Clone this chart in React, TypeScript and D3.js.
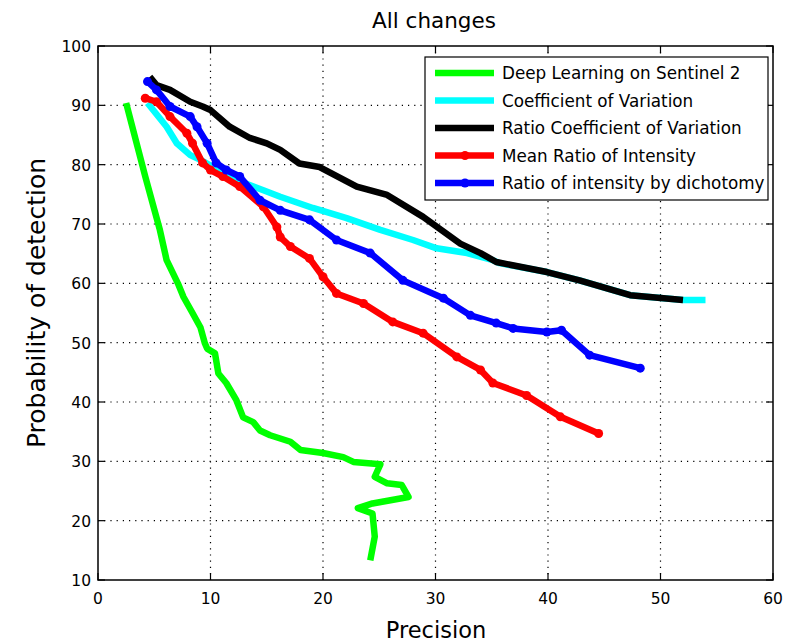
import React from "react";
import * as d3 from "d3";

const xTicks = [0, 10, 20, 30, 40, 50, 60];
const yTicks = [10, 20, 30, 40, 50, 60, 70, 80, 90, 100];

const seriesNames = [
  "Deep Learning on Sentinel 2",
  "Coefficient of Variation",
  "Ratio Coefficient of Variation",
  "Mean Ratio of Intensity",
  "Ratio of intensity by dichotomy",
];
const seriesColors = ["#00ff00", "#00ffff", "#000000", "#ff0000", "#0000ff"];
const seriesMarkers = [false, false, false, true, true];

const deepLearning: [number, number][] = [
  [2.5, 90.4], [4.2, 78], [5.5, 69], [6.1, 63.9], [7.1, 60], [7.6, 57.7], [8.4, 55],
  [9.1, 52.6], [9.5, 49.9], [9.7, 49], [10.4, 48.2], [10.7, 44.8], [11.4, 43.2],
  [12.3, 40.3], [12.9, 37.4], [13.8, 36.6], [14.4, 35.2], [15.3, 34.4], [17.1, 33.3],
  [18.0, 31.9], [20.0, 31.4], [21.8, 30.7], [22.7, 29.9], [25.1, 29.5], [24.6, 27.4],
  [25.7, 26.3], [27.0, 26.0], [27.6, 24.0], [24.4, 22.9], [23.1, 22.1], [24.4, 21.2],
  [24.6, 17.3], [24.2, 13.3],
];
const coefVariation: [number, number][] = [
  [4.4, 90.4], [6.1, 86.4], [7.0, 83.6], [8.2, 81.6], [9.1, 80.8], [12.3, 77.4],
  [14.7, 75.7], [16.2, 74.6], [19.1, 72.7], [22.1, 71.0], [25.1, 69.0], [28.0, 67.3],
  [30.1, 65.9], [32.8, 65.1], [35.1, 63.9], [35.7, 63.4], [39.9, 61.9], [42.8, 60.5],
  [47.3, 58.0], [52.0, 57.2], [54.0, 57.2],
];
const ratioCoefVariation: [number, number][] = [
  [4.6, 94.8], [5.2, 93.4], [6.4, 92.6], [8.2, 90.6], [9.3, 89.8], [10.0, 89.2],
  [11.7, 86.4], [13.5, 84.5], [15.0, 83.6], [16.2, 82.5], [17.9, 80.2], [19.7, 79.6],
  [23.0, 76.3], [25.7, 74.9], [28.9, 71.2], [32.2, 66.7], [34.0, 65.1], [35.4, 63.6],
  [39.9, 61.9], [42.8, 60.5], [47.3, 58.0], [52.0, 57.2],
];
const meanRatio: [number, number][] = [
  [4.2, 91.2], [5.2, 90.6], [6.4, 88.1], [7.9, 85.3], [8.4, 83.6], [9.3, 80.3],
  [10.0, 79.1], [11.1, 78.0], [12.6, 76.3], [14.7, 72.9], [15.9, 69.5], [16.2, 67.8],
  [17.1, 66.2], [18.8, 64.2], [20.0, 61.1], [21.2, 58.3], [23.6, 56.6], [26.2, 53.5],
  [28.9, 51.6], [31.9, 47.6], [34.0, 45.4], [35.1, 43.2], [38.1, 41.1], [41.1, 37.5],
  [44.5, 34.7],
];
const dichotomy: [number, number][] = [
  [4.4, 94.0], [5.2, 92.6], [6.4, 89.8], [8.2, 88.1], [8.8, 86.4], [9.7, 83.6],
  [10.5, 80.3], [11.4, 79.1], [12.6, 78.0], [14.4, 74.0], [16.2, 72.3], [18.8, 70.7],
  [21.2, 67.3], [24.2, 65.1], [27.1, 60.5], [30.7, 57.5], [33.1, 54.6], [35.4, 53.3],
  [36.9, 52.4], [39.9, 51.8], [41.2, 52.1], [43.7, 47.9], [48.2, 45.7],
];
const allSeries = [deepLearning, coefVariation, ratioCoefVariation, meanRatio, dichotomy];

const W = 799, H = 644;
const L = 98, R = 773, T = 46, B = 580;
const font = "'DejaVu Sans', Verdana, sans-serif";

export default function App() {
  const x = d3.scaleLinear().domain([0, 60]).range([L, R]);
  const y = d3.scaleLinear().domain([10, 100]).range([B, T]);
  const line = d3.line<[number, number]>().x(d => x(d[0])).y(d => y(d[1]));
  const order = [1, 2, 3, 4, 0];
  const legX = 425, legY = 57, legW = 343, legH = 143;
  return (
    <svg width={W} height={H} style={{ position: "absolute", left: 0, top: 0, background: "#fff" }}>
      <rect x={0} y={0} width={W} height={H} fill="#fff" />
      {xTicks.slice(1, -1).map(t => (
        <line key={"gx" + t} x1={x(t)} x2={x(t)} y1={T} y2={B} stroke="#000" strokeWidth={1.2} strokeDasharray="1.2,5" />
      ))}
      {yTicks.slice(1, -1).map(t => (
        <line key={"gy" + t} x1={L} x2={R} y1={y(t)} y2={y(t)} stroke="#000" strokeWidth={1.2} strokeDasharray="1.2,5" />
      ))}
      {xTicks.map(t => (
        <g key={"tx" + t}>
          <line x1={x(t)} x2={x(t)} y1={B} y2={B - 7} stroke="#000" strokeWidth={1.2} />
          <line x1={x(t)} x2={x(t)} y1={T} y2={T + 7} stroke="#000" strokeWidth={1.2} />
          <text x={x(t)} y={B + 23.5} textAnchor="middle" fontFamily={font} fontSize={15.5}>{t}</text>
        </g>
      ))}
      {yTicks.map(t => (
        <g key={"ty" + t}>
          <line x1={L} x2={L + 7} y1={y(t)} y2={y(t)} stroke="#000" strokeWidth={1.2} />
          <line x1={R} x2={R - 7} y1={y(t)} y2={y(t)} stroke="#000" strokeWidth={1.2} />
          <text x={L - 7} y={y(t) + 6} textAnchor="end" fontFamily={font} fontSize={15.5}>{t}</text>
        </g>
      ))}
      {order.map(i => (
        <g key={"s" + i}>
          <path d={line(allSeries[i]) || ""} fill="none" stroke={seriesColors[i]} strokeWidth={6.5} strokeLinejoin="round" strokeLinecap="butt" />
          {seriesMarkers[i] && allSeries[i].map((p, j) => (
            <circle key={j} cx={x(p[0])} cy={y(p[1])} r={4.5} fill={seriesColors[i]} />
          ))}
        </g>
      ))}
      <rect x={L} y={T} width={R - L} height={B - T} fill="none" stroke="#000" strokeWidth={1.5} />
      <rect x={legX} y={legY} width={legW} height={legH} fill="#fff" stroke="#000" strokeWidth={1.2} />
      {seriesNames.map((n, i) => {
        const cy = legY + 16 + i * 27.5;
        return (
          <g key={"l" + i}>
            <line x1={legX + 10} x2={legX + 69} y1={cy} y2={cy} stroke={seriesColors[i]} strokeWidth={6.5} />
            {seriesMarkers[i] && <circle cx={legX + 40} cy={cy} r={4.5} fill={seriesColors[i]} />}
            <text x={legX + 77} y={cy + 6} fontFamily={font} fontSize={16.8}>{n}</text>
          </g>
        );
      })}
      <text x={434} y={28} textAnchor="middle" fontFamily={font} fontSize={21.5}>All changes</text>
      <text x={436} y={638} textAnchor="middle" fontFamily={font} fontSize={22.5}>Precision</text>
      <text transform={`translate(45, 303) rotate(-90)`} textAnchor="middle" fontFamily={font} fontSize={25}>Probability of detection</text>
    </svg>
  );
}
